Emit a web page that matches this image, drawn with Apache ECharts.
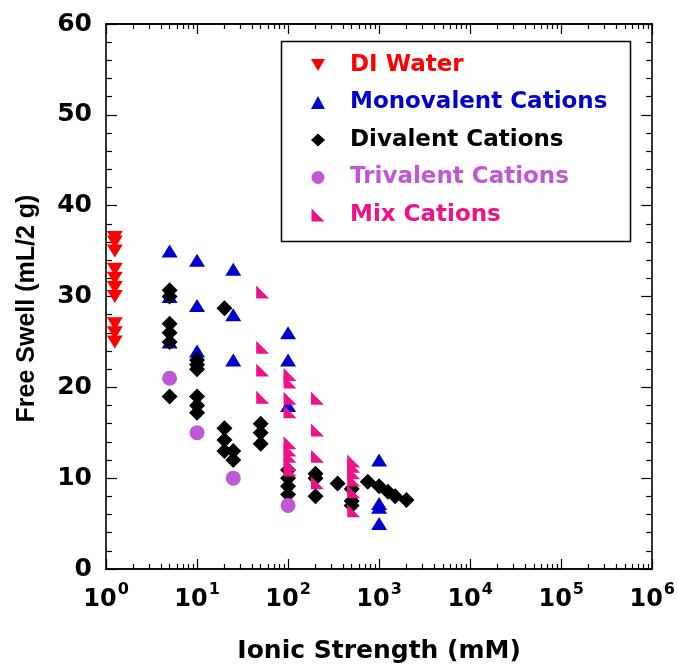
<!DOCTYPE html>
<html>
<head>
<meta charset="utf-8">
<script src="https://cdn.jsdelivr.net/npm/echarts@6/dist/echarts.min.js"></script>
<style>
  html, body { margin: 0; padding: 0; background: #fff; }
  #chart { width: 678px; height: 671px; }
</style>
</head>
<body>
<div id="chart"></div>
<script>
// Free swell vs. ionic strength, grouped by cation valence
const seriesNames = ['DI Water', 'Monovalent Cations', 'Divalent Cations', 'Trivalent Cations', 'Mix Cations'];
const seriesColors = ['#ff0000', '#0000cc', '#000000', '#bf58d6', '#ee1289'];

const diWaterX = [1.25, 1.25, 1.25, 1.25, 1.25, 1.25, 1.25, 1.25, 1.25, 1.25];
const diWaterY = [36.5, 36, 35, 33, 32, 31, 30, 27, 26, 25];

const monoX = [5, 5, 5, 10, 10, 10, 25, 25, 25, 100, 100, 100, 1000, 1000, 1000, 1000];
const monoY = [35, 30, 25, 34, 29, 24, 33, 28, 23, 26, 23, 18, 12, 7.2, 6.8, 5];

const diX = [5, 5, 5, 5, 5, 5, 10, 10, 10, 10, 10, 10, 20, 20, 20, 20, 25, 25,
             50, 50, 50, 100, 100, 100, 100, 200, 200, 200, 350, 500, 500, 500,
             750, 1000, 1250, 1500, 2000];
const diY = [30.7, 30, 27, 26, 25, 19, 23, 22.5, 22, 19, 18, 17.2, 28.7, 15.5, 14.2, 13, 13, 12,
             16, 15, 13.8, 10.9, 10, 9.1, 8.2, 10.5, 10, 8, 9.4, 8.8, 7.5, 7,
             9.6, 9.1, 8.5, 8, 7.6];

const triX = [5, 10, 25, 100];
const triY = [21, 15, 10, 7];

const mixX = [50, 50, 50, 50, 100, 100, 100, 100, 100, 100, 100, 100, 100,
              200, 200, 200, 200, 500, 500, 500, 500, 500, 500];
const mixY = [30.5, 24.4, 21.9, 18.9, 21.4, 20.6, 18.8, 17.3, 13.9, 13.1, 12.4, 11.5, 10.9,
              18.8, 15.3, 12.4, 9.5, 11.9, 11.3, 10.6, 9.8, 8.5, 6.4];

const decadeExponents = [0, 1, 2, 3, 4, 5, 6];
const yMin = 0, yMax = 60, yStep = 10;

// minor ticks of the log axis at 2..9 × 10^n
const minorLogTicks = [];
for (let d = 0; d < decadeExponents.length - 1; d++) {
  for (let m = 2; m <= 9; m++) minorLogTicks.push(m * Math.pow(10, decadeExponents[d]));
}
const majorLogTicks = decadeExponents.map(e => Math.pow(10, e));

const pairs = (xs, ys) => xs.map((x, i) => [x, ys[i]]);

const WIDE = 'DejaVu Sans, sans-serif';
const NARROW = 'Liberation Sans, Arial, sans-serif';
const axisLine = { show: true, lineStyle: { color: '#000', width: 1.6 } };

// marker shapes
const DOWN_TRIANGLE = 'path://M0 0L10 0L5 8.7Z';
const RIGHT_TRIANGLE = 'path://M0 0L0 10L10 10Z';

function logAxis(position, ticks, len, withLabels) {
  return {
    type: 'log', logBase: 10, min: 1, max: 1e6, position: position,
    axisLine: axisLine,
    axisTick: { show: true, inside: true, length: len, customValues: ticks,
                lineStyle: { color: '#000', width: 1.2 } },
    axisLabel: withLabels ? {
      show: true, margin: 13, customValues: majorLogTicks,
      formatter: v => '{b|10}{e|' + Math.round(Math.log10(v)) + '}',
      rich: {
        b: { fontFamily: WIDE, fontWeight: 'bold', fontSize: 24, color: '#000', verticalAlign: 'bottom', lineHeight: 30 },
        e: { fontFamily: WIDE, fontWeight: 'bold', fontSize: 16, color: '#000', verticalAlign: 'top', lineHeight: 30, padding: [0, 0, 0, 1] }
      }
    } : { show: false },
    splitLine: { show: false },
    minorTick: { show: false }
  };
}

function valAxis(position, withLabels) {
  return {
    type: 'value', min: yMin, max: yMax, interval: yStep, position: position,
    axisLine: axisLine,
    axisTick: { show: true, inside: true, length: 11, lineStyle: { color: '#000', width: 1.2 } },
    minorTick: { show: true, splitNumber: 5, length: 6, lineStyle: { color: '#000', width: 1.2 } },
    axisLabel: withLabels ? { show: true, margin: 14, fontFamily: WIDE, fontWeight: 'bold', fontSize: 25, color: '#000' } : { show: false },
    splitLine: { show: false }
  };
}

const xBottom = logAxis('bottom', majorLogTicks, 10, true);
xBottom.name = 'Ionic Strength (mM)';
xBottom.nameLocation = 'middle';
xBottom.nameGap = 70;
xBottom.nameTextStyle = { fontFamily: WIDE, fontWeight: 'bold', fontSize: 25, color: '#000' };

const yLeft = valAxis('left', true);
yLeft.name = 'Free Swell (mL/2 g)';
yLeft.nameLocation = 'middle';
yLeft.nameGap = 66;
yLeft.nameTextStyle = { fontFamily: NARROW, fontWeight: 'bold', fontSize: 25, color: '#000', padding: [0, 24, 0, 0] };

const chart = echarts.init(document.getElementById('chart'), null, { renderer: 'canvas' });

const mkSeries = (idx, data, symbol, size, extra) => Object.assign({
  name: seriesNames[idx], type: 'scatter', xAxisIndex: 0, yAxisIndex: 0,
  data: data, symbol: symbol, symbolSize: size,
  itemStyle: { color: seriesColors[idx], opacity: 1 },
  emphasis: { disabled: true }, animation: false
}, extra || {});

const legendIcons = [DOWN_TRIANGLE, 'triangle', 'diamond', 'circle', RIGHT_TRIANGLE];

chart.setOption({
  animation: false,
  backgroundColor: '#fff',
  grid: { left: 106, right: 24, top: 24, bottom: 102, containLabel: false },
  xAxis: [
    xBottom,
    logAxis('bottom', minorLogTicks, 5, false),
    logAxis('top', majorLogTicks, 10, false),
    logAxis('top', minorLogTicks, 5, false)
  ],
  yAxis: [yLeft, valAxis('right', false)],
  legend: {
    orient: 'vertical', left: 311, top: 53, padding: 0,
    itemWidth: 14, itemHeight: 13, itemGap: 13.5,
    selectedMode: false,
    textStyle: { fontFamily: WIDE, fontWeight: 'bold', fontSize: 23, lineHeight: 24, padding: [0, 0, 0, 20] },
    data: seriesNames.map((n, i) => ({ name: n, icon: legendIcons[i], textStyle: { color: seriesColors[i] } }))
  },
  graphic: [{
    type: 'rect', left: 279, top: 39, z: 100,
    shape: { width: 349, height: 200 },
    style: { fill: 'none', stroke: '#000', lineWidth: 1.5 }
  }],
  series: [
    mkSeries(0, pairs(diWaterX, diWaterY), DOWN_TRIANGLE, [16, 13]),
    mkSeries(1, pairs(monoX, monoY), 'triangle', [16, 13]),
    mkSeries(2, pairs(diX, diY), 'diamond', [16, 16]),
    mkSeries(3, pairs(triX, triY), 'circle', 15),
    mkSeries(4, pairs(mixX, mixY), RIGHT_TRIANGLE, [13, 13], { symbolOffset: [2, 0] })
  ]
});
</script>
</body>
</html>
